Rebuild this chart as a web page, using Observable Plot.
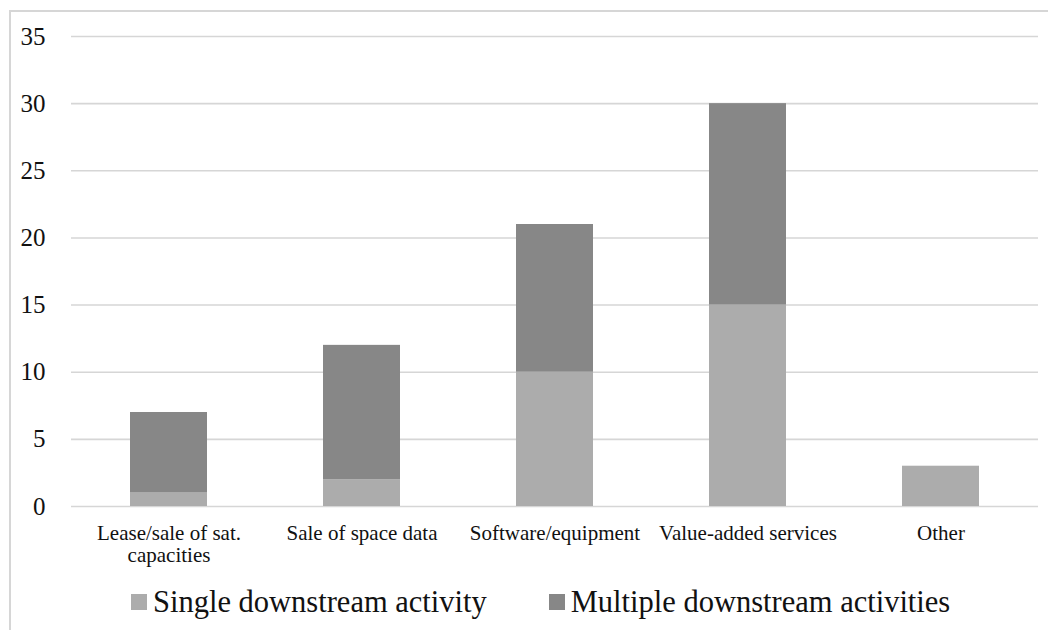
<!DOCTYPE html>
<html>
<head>
<meta charset="utf-8">
<script src="https://cdn.jsdelivr.net/npm/d3@7"></script>
<script src="https://cdn.jsdelivr.net/npm/@observablehq/plot@0.6"></script>
<style>
  html, body { margin: 0; padding: 0; background: #fff; }
  body { width: 1048px; height: 630px; overflow: hidden; position: relative; font-family: "Liberation Serif", "Times New Roman", serif; }
  #frame { position: absolute; left: 9px; top: 10px; width: 1100px; height: 700px; border: 2px solid #d6d6d6; box-sizing: border-box; }
  #chart { position: absolute; left: 0; top: 0; }
  #legend { position: absolute; left: 131px; top: 585px; display: flex; align-items: center; font-size: 30.5px; color: #111; line-height: 34px; }
  .item { display: flex; align-items: center; white-space: nowrap; }
  .swatch { width: 16px; height: 16px; margin-right: 6px; }
</style>
</head>
<body>
<div id="frame"></div>
<div id="chart"></div>
<div id="legend"></div>
<script>
// Downstream activity categories and counts per series
const categories = ["Lease/sale of sat.\ncapacities", "Sale of space data", "Software/equipment", "Value-added services", "Other"];
const seriesNames = ["Single downstream activity", "Multiple downstream activities"];
const singleValues = [1, 2, 10, 15, 3];
const multipleValues = [6, 10, 11, 15, 0];
const seriesColors = ["#acacac", "#878787"];
const yTicks = [0, 5, 10, 15, 20, 25, 30, 35];

const rows = [];
categories.forEach((c, i) => {
  rows.push({category: c, series: seriesNames[0], value: singleValues[i]});
  rows.push({category: c, series: seriesNames[1], value: multipleValues[i]});
});

const chart = Plot.plot({
  width: 1048,
  height: 570,
  marginTop: 36,
  marginBottom: 64,
  marginLeft: 71,
  marginRight: 10,
  style: {fontFamily: "'Liberation Serif', 'Times New Roman', serif", background: "transparent", color: "#111"},
  x: {domain: categories, paddingInner: 0.6, paddingOuter: 0.3, label: null},
  y: {domain: [0, 35], label: null},
  color: {domain: seriesNames, range: seriesColors},
  marks: [
    Plot.gridY(yTicks, {stroke: "#d6d6d6", strokeOpacity: 1, strokeWidth: 1.6}),
    Plot.barY(rows, {
      x: "category",
      y: "value",
      fill: "series",
      order: seriesNames
    }),
    Plot.axisY(yTicks, {tickSize: 0, tickPadding: 26, fontSize: 25, label: null, fill: "#111"}),
    Plot.axisX({tickSize: 0, tickPadding: 17, fontSize: 21, lineHeight: 1.08, label: null, fill: "#111"})
  ]
});
document.getElementById("chart").appendChild(chart);

// Legend below the plot
const legend = document.getElementById("legend");
seriesNames.forEach((name, i) => {
  const item = document.createElement("div");
  item.className = "item";
  if (i > 0) item.style.marginLeft = "62px";
  const sw = document.createElement("span");
  sw.className = "swatch";
  sw.style.background = seriesColors[i];
  const label = document.createElement("span");
  label.textContent = name;
  item.appendChild(sw);
  item.appendChild(label);
  legend.appendChild(item);
});
</script>
</body>
</html>
